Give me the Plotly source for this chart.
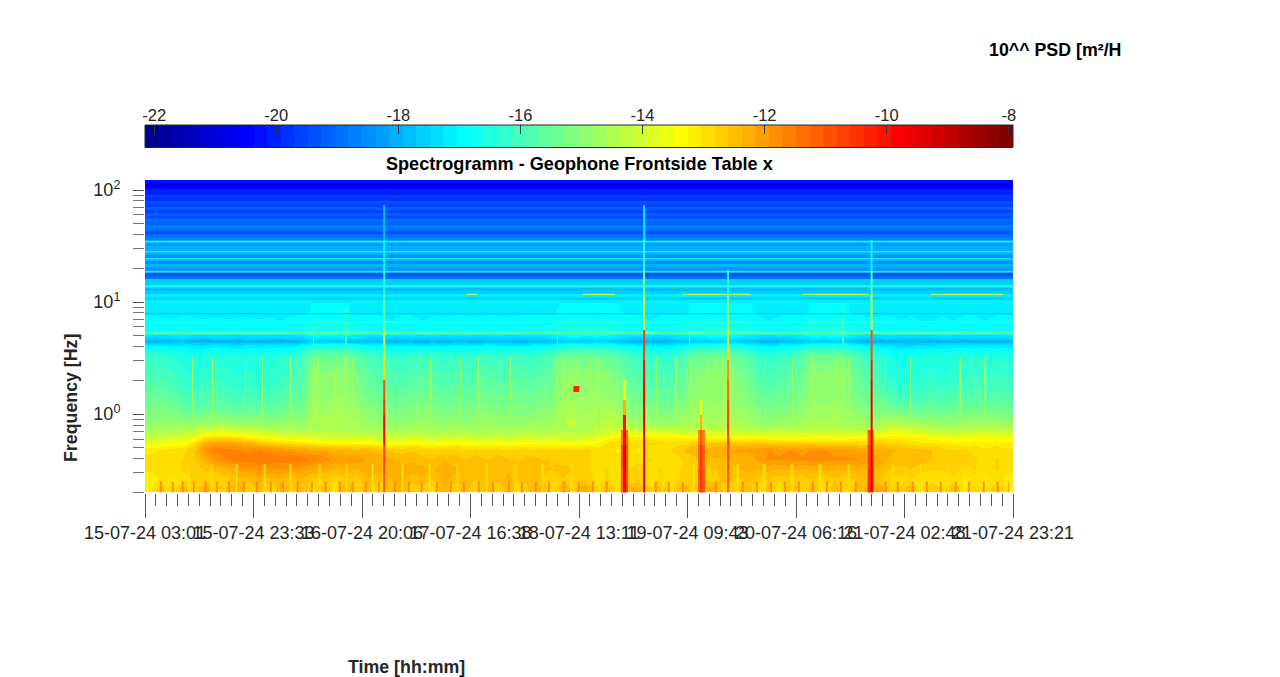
import numpy as np
import plotly.graph_objects as go

# Time axis: hours since 15-07-24 03:01
total_hours = 164.33
tick_labels = ["15-07-24 03:01", "15-07-24 23:33", "16-07-24 20:06", "17-07-24 16:38", "18-07-24 13:11",
               "19-07-24 09:43", "20-07-24 06:16", "21-07-24 02:48", "21-07-24 23:21"]

# Low frequency part of the spectrogram, log10 PSD, 80 time columns per band
low_freq_edges = [0.2, 0.237, 0.291, 0.358, 0.44, 0.518, 0.586, 0.663, 0.781, 1.0, 1.33, 1.81, 2.74, 4.13, 4.87, 6.9, 9.8]
low_0 = [-13.1,-12.5,-13.0,-12.4,-12.9,-12.2,-12.7,-12.6,-12.2,-12.8,-12.4,-12.9,-12.3,-12.7,-12.4,-12.9,-12.5,-13.0,-12.3,-12.8,
         -12.4,-12.9,-12.5,-12.2,-12.8,-12.6,-12.9,-12.3,-12.7,-12.5,-12.9,-12.3,-12.8,-12.4,-12.9,-12.5,-12.3,-12.9,-12.4,-12.7,
         -12.2,-12.8,-12.5,-12.9,-12.4,-12.3,-12.8,-12.4,-12.9,-12.3,-12.7,-12.4,-12.3,-12.8,-12.6,-12.4,-12.9,-12.5,-13.0,-12.4,
         -12.8,-12.5,-13.0,-12.4,-12.9,-12.6,-12.3,-12.1,-12.6,-12.8,-12.4,-13.0,-12.6,-12.9,-12.5,-13.1,-12.7,-13.0,-12.6,-13.1]
low_1 = [-13.2,-13.0,-13.1,-12.9,-12.8,-12.7,-12.8,-12.7,-12.4,-12.5,-12.3,-12.5,-12.4,-12.5,-12.4,-12.7,-12.6,-12.8,-12.6,-12.7,
         -12.4,-12.6,-12.4,-12.2,-12.5,-12.4,-12.6,-12.3,-12.5,-12.4,-12.6,-12.4,-12.5,-12.3,-12.6,-12.5,-12.6,-12.8,-12.6,-12.8,
         -12.6,-12.9,-12.8,-13.0,-12.8,-12.7,-13.0,-12.8,-13.0,-12.7,-12.8,-12.6,-12.7,-12.5,-12.7,-12.5,-12.7,-12.6,-12.8,-12.6,
         -12.7,-12.6,-12.8,-12.6,-12.7,-12.6,-12.5,-12.5,-12.8,-12.9,-12.8,-13.1,-12.9,-13.0,-12.9,-13.1,-13.0,-13.1,-12.9,-13.2]
low_2 = [-13.0,-12.9,-12.9,-12.8,-12.7,-12.6,-12.5,-12.4,-12.1,-12.0,-11.9,-12.0,-11.9,-12.0,-12.1,-12.2,-12.3,-12.4,-12.3,-12.4,
         -12.2,-12.3,-12.3,-12.2,-12.3,-12.3,-12.4,-12.2,-12.3,-12.4,-12.5,-12.4,-12.5,-12.4,-12.6,-12.5,-12.5,-12.6,-12.5,-12.6,
         -12.7,-12.9,-12.8,-12.9,-12.8,-12.7,-12.9,-12.8,-12.9,-12.8,-12.8,-12.7,-12.6,-12.5,-12.4,-12.3,-12.4,-12.3,-12.4,-12.3,
         -12.4,-12.3,-12.4,-12.3,-12.4,-12.3,-12.4,-12.4,-12.6,-12.7,-12.6,-12.7,-12.8,-12.8,-12.7,-12.9,-12.8,-12.9,-12.8,-12.9]
low_3 = [-13.0,-12.9,-12.9,-12.8,-12.7,-12.3,-11.9,-11.7,-11.6,-11.6,-11.5,-11.5,-11.6,-11.5,-11.6,-11.7,-11.8,-12.0,-12.1,-12.0,
         -12.2,-12.2,-12.3,-12.5,-12.4,-12.5,-12.6,-12.4,-12.5,-12.6,-12.5,-12.6,-12.5,-12.6,-12.6,-12.5,-12.6,-12.6,-12.7,-12.7,
         -12.7,-12.9,-13.0,-12.9,-13.0,-12.9,-12.8,-12.9,-13.0,-12.8,-12.7,-12.5,-12.4,-12.4,-12.3,-12.3,-12.1,-11.9,-11.9,-11.8,
         -11.9,-11.8,-11.8,-11.9,-11.9,-11.9,-12.0,-12.1,-12.4,-12.5,-12.4,-12.5,-12.6,-12.7,-12.8,-12.7,-12.8,-12.9,-12.8,-12.9]
low_4 = [-13.1,-13.0,-12.9,-12.9,-12.6,-11.9,-11.6,-11.6,-11.7,-11.8,-11.7,-11.8,-11.9,-12.0,-12.1,-12.2,-12.2,-12.3,-12.3,-12.4,
         -12.3,-12.5,-12.6,-12.7,-12.6,-12.7,-12.8,-12.7,-12.7,-12.8,-12.7,-12.8,-12.7,-12.8,-12.7,-12.8,-12.7,-12.8,-12.7,-12.8,
         -12.7,-12.9,-13.0,-13.1,-13.0,-13.1,-12.9,-13.0,-12.8,-12.6,-12.4,-12.3,-12.2,-12.2,-12.1,-12.1,-12.0,-11.9,-12.0,-11.9,
         -12.0,-11.9,-11.9,-12.0,-12.0,-12.1,-12.2,-12.3,-12.3,-12.4,-12.5,-12.5,-12.6,-12.7,-12.8,-12.8,-12.9,-13.0,-12.9,-13.0]
low_5 = [-13.7,-13.6,-13.5,-13.4,-13.0,-12.3,-12.1,-12.1,-12.2,-12.3,-12.5,-12.7,-12.8,-12.9,-13.0,-13.1,-13.2,-13.2,-13.3,-13.3,
         -13.3,-13.4,-13.4,-13.4,-13.3,-13.4,-13.5,-13.4,-13.3,-13.4,-13.5,-13.4,-13.4,-13.5,-13.4,-13.3,-13.5,-13.4,-13.5,-13.4,
         -13.4,-13.3,-13.0,-12.9,-12.8,-12.9,-12.8,-12.8,-12.9,-12.9,-12.7,-12.7,-12.6,-12.5,-12.6,-12.6,-12.5,-12.6,-12.7,-12.7,
         -12.7,-12.7,-12.8,-12.8,-12.8,-12.8,-12.9,-12.7,-12.8,-12.8,-12.9,-13.0,-13.0,-13.1,-13.1,-13.2,-13.1,-13.2,-13.1,-13.2]
low_6 = [-14.2,-14.1,-14.0,-13.9,-13.7,-13.0,-12.9,-12.9,-13.0,-13.2,-13.4,-13.5,-13.6,-13.7,-13.8,-13.9,-13.9,-14.0,-14.0,-14.0,
         -14.0,-14.1,-14.0,-14.1,-14.0,-14.0,-14.1,-14.0,-14.1,-14.0,-14.1,-14.1,-14.0,-14.1,-14.0,-14.0,-14.1,-14.0,-14.0,-14.1,
         -14.0,-13.9,-13.4,-13.2,-13.1,-13.2,-13.1,-13.2,-13.3,-13.3,-13.3,-13.4,-13.3,-13.4,-13.4,-13.4,-13.3,-13.4,-13.4,-13.4,
         -13.4,-13.5,-13.4,-13.5,-13.5,-13.4,-13.3,-13.2,-13.1,-13.2,-13.2,-13.3,-13.4,-13.5,-13.6,-13.5,-13.5,-13.4,-13.4,-13.5]
low_7 = [-14.6,-14.5,-14.5,-14.4,-14.3,-14.0,-13.9,-13.9,-14.0,-14.1,-14.2,-14.3,-14.4,-14.4,-14.5,-14.4,-14.4,-14.5,-14.4,-14.5,
         -14.5,-14.6,-14.5,-14.6,-14.5,-14.5,-14.6,-14.5,-14.6,-14.5,-14.6,-14.5,-14.5,-14.6,-14.5,-14.4,-14.5,-14.5,-14.4,-14.4,
         -14.4,-14.3,-14.1,-14.0,-14.0,-14.1,-14.0,-14.1,-14.1,-14.2,-14.2,-14.2,-14.1,-14.2,-14.2,-14.3,-14.3,-14.2,-14.3,-14.3,
         -14.3,-14.2,-14.3,-14.2,-14.3,-14.4,-14.3,-14.2,-13.8,-13.8,-13.9,-14.0,-14.2,-14.3,-14.3,-14.3,-14.2,-14.2,-14.2,-14.3]
low_8 = [-15.0,-15.0,-14.9,-15.0,-15.0,-14.9,-14.8,-14.9,-15.0,-15.0,-15.0,-15.1,-15.0,-14.9,-15.0,-14.4,-14.5,-14.4,-14.5,-14.6,
         -14.8,-14.9,-14.9,-15.0,-14.9,-14.8,-14.9,-15.0,-14.9,-15.0,-14.9,-14.8,-14.9,-14.9,-15.0,-14.9,-14.8,-14.7,-14.4,-14.3,
         -14.5,-14.4,-14.3,-14.4,-14.7,-14.8,-14.8,-14.9,-14.9,-14.7,-14.6,-14.5,-14.6,-14.5,-14.6,-14.7,-14.9,-15.0,-14.9,-14.8,
         -14.7,-14.5,-14.6,-14.5,-14.6,-14.7,-14.8,-14.8,-14.6,-14.6,-14.7,-14.8,-14.9,-15.0,-15.0,-14.9,-14.8,-14.9,-14.8,-14.9]
low_9 = [-15.3,-15.2,-15.3,-15.6,-15.7,-15.6,-15.5,-15.6,-15.7,-15.6,-15.7,-15.6,-15.5,-15.4,-15.3,-14.6,-14.8,-14.6,-14.7,-14.8,
         -15.1,-15.2,-15.2,-15.3,-15.2,-15.1,-15.2,-15.3,-15.2,-15.3,-15.2,-15.1,-15.2,-15.2,-15.1,-15.2,-15.1,-15.0,-14.6,-14.5,
         -14.7,-14.6,-14.6,-14.7,-15.0,-15.2,-15.2,-15.3,-15.3,-15.1,-14.8,-14.7,-14.8,-14.6,-14.8,-14.9,-15.2,-15.3,-15.2,-15.2,
         -15.0,-14.7,-14.8,-14.7,-14.8,-15.0,-15.2,-15.2,-15.4,-15.6,-15.7,-15.6,-15.5,-15.6,-15.5,-15.5,-15.4,-15.5,-15.4,-15.5]
low_10 = [-15.5,-15.6,-15.7,-16.0,-16.1,-15.9,-15.8,-16.0,-16.1,-16.0,-16.1,-16.0,-15.9,-15.7,-15.6,-14.8,-15.0,-14.8,-14.9,-15.1,
          -15.4,-15.5,-15.5,-15.6,-15.5,-15.4,-15.5,-15.6,-15.5,-15.6,-15.5,-15.4,-15.5,-15.5,-15.4,-15.5,-15.4,-15.3,-14.8,-14.7,
          -14.9,-14.8,-14.9,-15.0,-15.3,-15.5,-15.6,-15.6,-15.6,-15.4,-15.0,-14.9,-15.0,-14.8,-15.0,-15.2,-15.5,-15.6,-15.5,-15.5,
          -15.2,-14.9,-15.0,-14.9,-15.0,-15.3,-15.5,-15.6,-15.9,-16.1,-16.2,-16.1,-15.9,-16.0,-15.9,-15.9,-15.8,-15.9,-15.8,-15.9]
low_11 = [-15.9,-16.0,-16.1,-16.3,-16.4,-16.3,-16.2,-16.3,-16.4,-16.3,-16.4,-16.3,-16.2,-16.0,-15.8,-14.7,-15.0,-14.8,-14.9,-15.2,
          -15.6,-15.8,-15.8,-15.9,-15.8,-15.7,-15.8,-15.9,-15.8,-15.9,-15.8,-15.7,-15.8,-15.8,-15.7,-15.8,-15.7,-15.5,-14.9,-14.8,
          -15.0,-14.9,-15.0,-15.2,-15.6,-15.8,-15.9,-15.9,-15.9,-15.6,-15.1,-15.0,-14.9,-14.8,-15.1,-15.4,-15.8,-15.9,-15.8,-15.7,
          -15.4,-14.9,-15.0,-14.8,-15.0,-15.4,-15.8,-16.0,-16.4,-16.5,-16.5,-16.4,-16.3,-16.4,-16.3,-16.2,-16.1,-16.2,-16.1,-16.2]
low_12 = [-16.2,-16.3,-16.4,-16.5,-16.6,-16.5,-16.4,-16.5,-16.6,-16.5,-16.6,-16.5,-16.4,-16.3,-16.1,-15.4,-15.6,-15.5,-15.5,-15.7,
          -16.0,-16.1,-16.2,-16.3,-16.2,-16.1,-16.2,-16.3,-16.2,-16.3,-16.2,-16.1,-16.2,-16.2,-16.1,-16.2,-16.1,-15.9,-15.5,-15.4,
          -15.5,-15.5,-15.6,-15.7,-16.0,-16.2,-16.3,-16.3,-16.3,-16.0,-15.6,-15.5,-15.5,-15.4,-15.6,-15.8,-16.2,-16.3,-16.2,-16.1,
          -15.8,-15.4,-15.5,-15.4,-15.6,-15.8,-16.2,-16.3,-16.6,-16.7,-16.6,-16.6,-16.5,-16.6,-16.5,-16.4,-16.4,-16.5,-16.4,-16.5]
low_13 = [-18.0,-17.9,-17.9,-17.8,-18.0,-18.1,-17.9,-18.0,-18.1,-17.9,-18.0,-17.9,-18.1,-18.0,-17.9,-17.6,-17.7,-17.7,-17.8,-17.8,
          -17.9,-17.9,-18.0,-17.9,-17.9,-18.0,-17.9,-18.0,-17.9,-17.9,-18.0,-17.9,-17.9,-17.9,-18.0,-17.9,-17.9,-17.8,-17.7,-17.6,
          -17.7,-17.7,-17.7,-17.8,-17.9,-18.0,-17.9,-18.0,-17.9,-17.8,-17.7,-17.7,-17.6,-17.6,-17.7,-17.8,-17.9,-18.0,-17.9,-17.9,
          -17.8,-17.6,-17.7,-17.6,-17.7,-17.9,-18.0,-18.1,-17.9,-18.0,-18.1,-18.0,-18.1,-17.9,-18.0,-18.1,-18.0,-17.9,-18.0,-18.0]
low_14 = [-16.8,-16.9,-16.8,-16.8,-16.9,-16.8,-16.9,-16.8,-16.9,-16.9,-16.8,-16.9,-16.9,-16.8,-16.8,-16.5,-16.6,-16.6,-16.6,-16.7,
          -16.8,-16.8,-16.9,-16.8,-16.8,-16.9,-16.8,-16.9,-16.8,-16.8,-16.9,-16.8,-16.8,-16.9,-16.8,-16.8,-16.8,-16.7,-16.6,-16.5,
          -16.6,-16.5,-16.6,-16.7,-16.8,-16.8,-16.9,-16.8,-16.8,-16.7,-16.6,-16.6,-16.5,-16.5,-16.6,-16.7,-16.8,-16.9,-16.8,-16.8,
          -16.7,-16.5,-16.6,-16.5,-16.6,-16.7,-16.9,-16.9,-16.8,-16.9,-16.8,-16.9,-16.9,-16.8,-16.9,-16.8,-16.8,-16.9,-16.8,-16.8]
low_15 = [-17.1,-17.1,-17.2,-17.1,-17.1,-17.2,-17.1,-17.2,-17.1,-17.1,-17.2,-17.1,-17.2,-17.1,-17.1,-17.0,-17.0,-17.0,-17.0,-17.1,
          -17.1,-17.1,-17.2,-17.1,-17.1,-17.2,-17.1,-17.1,-17.1,-17.1,-17.1,-17.1,-17.1,-17.1,-17.1,-17.1,-17.1,-17.1,-17.0,-17.0,
          -17.0,-17.0,-17.0,-17.0,-17.1,-17.1,-17.2,-17.1,-17.1,-17.1,-17.0,-17.0,-17.0,-17.0,-17.0,-17.0,-17.1,-17.2,-17.1,-17.1,
          -17.1,-17.0,-17.0,-17.0,-17.0,-17.1,-17.1,-17.1,-17.1,-17.2,-17.1,-17.2,-17.2,-17.1,-17.2,-17.1,-17.1,-17.2,-17.1,-17.1]

# Narrow vertical streaks: start hour of each one, plus band and level
orange_streak_hours = [2.8, 5.1, 7.0, 9.1, 11.4, 13.4, 15.7, 18.6, 21.0, 23.7, 25.9, 28.8, 31.4, 34.1, 36.7, 39.2, 41.6, 44.1, 47.1,
                       49.8, 52.2, 55.1, 57.7, 60.2, 63.0, 65.7, 68.7, 71.2, 73.8, 76.3, 79.1, 82.0, 84.6, 87.3, 96.6, 99.0,
                       101.7, 107.9, 113.0, 115.7, 118.3, 121.0, 123.6, 126.3, 128.9, 131.6, 134.4, 140.1, 142.4, 145.2,
                       147.9, 150.5, 153.3, 155.8, 158.6, 161.3, 163.3]
orange_streak_freqs = [0.2, 0.25]
orange_streak_level = -11.9
yellow_streak_hours = [3.9, 8.0, 12.4, 17.1, 22.4, 27.4, 32.8, 37.9, 42.9, 48.5, 53.7, 59.0, 64.4, 70.0, 75.0, 80.5, 85.9, 97.8,
                       103.6, 112.0, 117.0, 122.3, 127.6, 133.0, 141.3, 146.6, 152.0, 157.2, 162.3]
yellow_streak_freqs = [0.2, 0.36]
yellow_streak_level = -13.0
green_streak_hours = [8.9, 12.7, 18.9, 22.1, 27.4, 31.8, 32.7, 37.9, 39.2, 54.0, 59.6, 63.0, 69.1, 75.7, 77.8, 79.0, 81.6, 84.2,
                      85.8, 96.6, 100.4, 103.2, 106.6, 108.1, 109.2, 113.6, 117.4, 122.5, 126.3, 130.8, 132.0, 133.1,
                      140.1, 144.8, 154.2, 158.9]
green_streak_freqs = [0.75, 3.2]
green_streak_level = -14.7
upper_streak_hours = [31.8, 37.9, 78.0, 103.0, 132.0]
upper_streak_freqs = [4.13, 9.0]
upper_streak_level = -16.0

# High frequency bands hardly change over time
high_freq_edges = [9.8, 10.42, 11.08, 11.79, 12.54, 13.34, 14.18, 15.09, 16.05, 17.07, 18.15, 19.31, 20.53, 21.84,
                   23.23, 24.71, 26.28, 27.95, 29.72, 31.62, 33.63, 35.77, 38.04, 40.46, 43.03, 45.77, 48.68, 51.78,
                   55.07, 58.57, 62.3, 66.26, 70.47, 74.95, 79.72, 84.79, 90.18, 95.91, 102.0, 108.5, 115.4, 122.8]
high_levels = [-17.2, -17.5, -17.2, -17.6, -17.8, -17.6, -17.7, -17.6, -19.0, -19.3, -18.2, -18.2, -18.0, -18.5,
               -18.0, -18.4, -18.1, -18.0, -18.0, -18.3, -18.1, -18.6, -18.9, -19.3, -19.0, -18.8, -19.2, -19.0,
               -19.4, -19.1, -19.5, -19.2, -19.6, -19.4, -19.9, -19.7, -20.1, -20.0, -20.4, -20.6, -20.3]

# Thin lines that run through the whole record (low and high edge of each line)
line_freqs = [5.15, 5.5, 6.55, 6.7, 7.75, 7.9, 13.7, 14.1, 18.3, 18.8, 21.1, 21.5, 24.1, 24.7, 27.6, 28.3, 33.9, 34.9]
line_levels = [-15.6, None, -16.1, None, -18.0, None, -16.5, None, -15.8, None, -17.2, None, -16.6, None, -16.0, None, -15.8]

# Short lines around 11.7 Hz
short_line_start = [60.8, 82.9, 101.9, 124.4, 148.8]
short_line_end = [62.9, 89.0, 114.5, 137.1, 162.4]
short_line_freqs = [11.55, 11.85]
short_line_level = -13.5

# Single event at 1.7 Hz
blob_hours = [81.1, 82.2]
blob_freqs = [1.57, 1.78]
blob_level = -10.3

# Broadband events
spike_freqs = [0.2, 0.316, 0.529, 0.72, 0.98, 1.33, 2.01, 3.03, 5.62, 11.5, 19.3, 35.8, 73.6]
spike_a_hours = [45.1, 45.46]
spike_a = [-11.0, -10.6, -9.9, -9.9, -10.4, -11.0, -13.0, -14.2, -15.6, -16.4, -16.9, -17.8]
spike_c_hours = [94.3, 94.66]
spike_c = [-9.6, -9.6, -9.6, -9.6, -9.7, -9.8, -10.0, -10.6, -14.0, -15.2, -16.2, -17.2]
spike_e_hours = [110.2, 110.56]
spike_e = [-11.2, -11.0, -10.8, -10.8, -11.0, -11.3, -11.8, -13.0, -14.8, -16.4, None, None]
spike_b_hours = [90.1, 90.5, 91.0, 91.4]
spike_b_left = [-11.2, -10.9, -11.6, None, None, None, None, None, None, None, None, None]
spike_b_mid = [-9.9, -9.7, -9.8, -10.0, -12.2, -13.6, None, None, None, None, None, None]
spike_b_right = [-10.8, -10.6, -11.2, None, None, None, None, None, None, None, None, None]
spike_d_hours = [104.7, 105.1, 105.5, 106.0]
spike_d_left = [-11.2, -11.3, -11.8, None, None, None, None, None, None, None, None, None]
spike_d_mid = [-10.4, -10.5, -10.9, -12.2, -13.4, None, None, None, None, None, None, None]
spike_d_right = [-11.0, -11.1, -11.6, None, None, None, None, None, None, None, None, None]
spike_f_hours = [136.8, 137.3, 137.7, 138.0]
spike_f_left = [-10.4, -10.6, -11.2, None, None, None, None, None, None, None, None, None]
spike_f_mid = [-9.4, -9.4, -9.4, -9.5, -9.6, -9.9, -10.2, -11.0, -14.0, -15.8, -17.0, None]
spike_f_right = [-10.6, -10.9, -11.4, None, None, None, None, None, None, None, None, None]

# Colour limits and colourbar ticks
clim = [-22.15, -7.93]
cbar_ticks = [-22, -20, -18, -16, -14, -12, -10, -8]


# MATLAB jet with 64 steps
def jet_steps(n=64):
    scale = []
    for i in range(n):
        t = (i + 1) / n
        r = min(max(min(4 * t - 1.5, 4.5 - 4 * t), 0), 1)
        g = min(max(min(4 * t - 0.5, 3.5 - 4 * t), 0), 1)
        b = min(max(min(4 * t + 0.5, 2.5 - 4 * t), 0), 1)
        col = f"rgb({round(255 * r)},{round(255 * g)},{round(255 * b)})"
        scale.append([i / n, col])
        scale.append([(i + 1) / n, col])
    return scale


W, H = 1280, 677
left, right, top, bottom = 145, 1013, 180, 492.5
cbar_top, cbar_bottom = 125, 147.5
text_col = "#262626"
font_name = "Liberation Sans"

low_z = [low_0, low_1, low_2, low_3, low_4, low_5, low_6, low_7,
         low_8, low_9, low_10, low_11, low_12, low_13, low_14, low_15]
time_edges = np.linspace(0, total_hours, len(low_0) + 1)

fig = go.Figure()


def add_cells(x, y, z, smooth=False):
    fig.add_trace(go.Heatmap(x=x, y=y, z=z, coloraxis="coloraxis", hoverongaps=False, zsmooth=smooth))


def add_streaks(hours, freqs, level, width):
    # one row of narrow cells with empty gaps between them
    edges, cells = [], []
    for h in hours:
        edges += [h, h + width]
        cells += [level, None]
    add_cells(edges, freqs, [cells[:-1]])


add_cells(time_edges, low_freq_edges, low_z, smooth="best")
add_streaks(yellow_streak_hours, yellow_streak_freqs, yellow_streak_level, 0.4)
add_streaks(orange_streak_hours, orange_streak_freqs, orange_streak_level, 0.3)
add_streaks(green_streak_hours, green_streak_freqs, green_streak_level, 0.25)
add_streaks(upper_streak_hours, upper_streak_freqs, upper_streak_level, 0.25)
add_cells([0, total_hours], high_freq_edges, [[v] for v in high_levels])
add_cells([0, total_hours], line_freqs, [[v] for v in line_levels])
for t0, t1 in zip(short_line_start, short_line_end):
    add_cells([t0, t1], short_line_freqs, [[short_line_level]])
add_cells(blob_hours, blob_freqs, [[blob_level]])

add_cells(spike_a_hours, spike_freqs, [[v] for v in spike_a])
add_cells(spike_c_hours, spike_freqs, [[v] for v in spike_c])
add_cells(spike_e_hours, spike_freqs, [[v] for v in spike_e])
add_cells(spike_b_hours, spike_freqs, [list(r) for r in zip(spike_b_left, spike_b_mid, spike_b_right)])
add_cells(spike_d_hours, spike_freqs, [list(r) for r in zip(spike_d_left, spike_d_mid, spike_d_right)])
add_cells(spike_f_hours, spike_freqs, [list(r) for r in zip(spike_f_left, spike_f_mid, spike_f_right)])

# Colourbar drawn as its own small heatmap so the ticks can sit on top
cbar_edges = np.linspace(clim[0], clim[1], 65)
cbar_mid = (cbar_edges[:-1] + cbar_edges[1:]) / 2
fig.add_trace(go.Heatmap(x=cbar_edges, y=[0, 1], z=[cbar_mid], coloraxis="coloraxis",
                         xaxis="x2", yaxis="y2", hoverinfo="skip"))

major_hours = [total_hours * i / 8 for i in range(9)]
y_minor = [0.2, 0.3, 0.4, 0.5, 0.6, 0.7, 0.8, 0.9, 2, 3, 4, 5, 6, 7, 8, 9, 20, 30, 40, 50, 60, 70, 80, 90]


def label(text, x, y, size=17.8, color=text_col, angle=0):
    return dict(text=f"<b>{text}</b>", xref="paper", yref="paper", x=x / W, y=(H - y) / H, xanchor="center",
                yanchor="middle", textangle=angle, showarrow=False, font=dict(size=size, color=color))


fig.update_layout(
    width=W,
    height=H,
    margin=dict(l=0, r=0, t=0, b=0),
    paper_bgcolor="white",
    plot_bgcolor="white",
    font=dict(family=font_name, color=text_col, size=16),
    coloraxis=dict(colorscale=jet_steps(), cmin=clim[0], cmax=clim[1], showscale=False),
    xaxis=dict(
        domain=[left / W, right / W],
        range=[0, total_hours],
        anchor="y",
        automargin=False,
        tickmode="array",
        tickvals=major_hours,
        ticktext=tick_labels,
        tickangle=0,
        ticks="outside",
        ticklen=24,
        tickcolor="#555555",
        tickfont=dict(size=18),
        showgrid=False,
        zeroline=False,
        showline=False,
        minor=dict(ticks="outside", ticklen=12, tickcolor="#555555", tick0=0, dtick=total_hours / 80, showgrid=False),
    ),
    yaxis=dict(
        domain=[(H - bottom) / H, (H - top) / H],
        type="log",
        range=[np.log10(0.2), np.log10(122.8)],
        anchor="x",
        automargin=False,
        tickmode="array",
        tickvals=[1, 10, 100],
        ticktext=["10<sup>0</sup>", "10<sup>1</sup>", "10<sup>2</sup>"],
        ticks="outside",
        ticklen=11,
        ticklabelstandoff=9,
        tickcolor="#555555",
        tickfont=dict(size=18),
        showgrid=False,
        zeroline=False,
        showline=False,
        minor=dict(ticks="outside", ticklen=11, tickcolor="#777777", tickmode="array", tickvals=y_minor, showgrid=False),
    ),
    xaxis2=dict(
        domain=[left / W, right / W],
        range=clim,
        anchor="y2",
        automargin=False,
        side="top",
        tickmode="array",
        tickvals=cbar_ticks,
        ticktext=[str(v) for v in cbar_ticks],
        tickangle=0,
        ticks="inside",
        ticklen=9,
        tickcolor="#333333",
        tickfont=dict(size=16.5),
        showgrid=False,
        zeroline=False,
        showline=False,
    ),
    yaxis2=dict(
        domain=[(H - cbar_bottom) / H, (H - cbar_top) / H],
        range=[0, 1],
        anchor="x2",
        automargin=False,
        showticklabels=False,
        ticks="",
        showgrid=False,
        zeroline=False,
        showline=False,
    ),
    shapes=[
        dict(type="rect", xref="paper", yref="paper", x0=left / W, x1=right / W,
             y0=(H - cbar_bottom) / H, y1=(H - cbar_top) / H, line=dict(color="#262626", width=1)),
    ],
    annotations=[
        label("Spectrogramm - Geophone Frontside Table x", 579, 164, size=18.1, color="black"),
        label("Frequency [Hz]", 71, 398, angle=-90),
        label("Time [hh:mm]", 406, 667),
        label("10^^ PSD [m²/H", 1055, 50, color="black"),
    ],
)

fig.write_html("out.html", config={"displayModeBar": False}, post_script="document.body.style.margin = '0';")
